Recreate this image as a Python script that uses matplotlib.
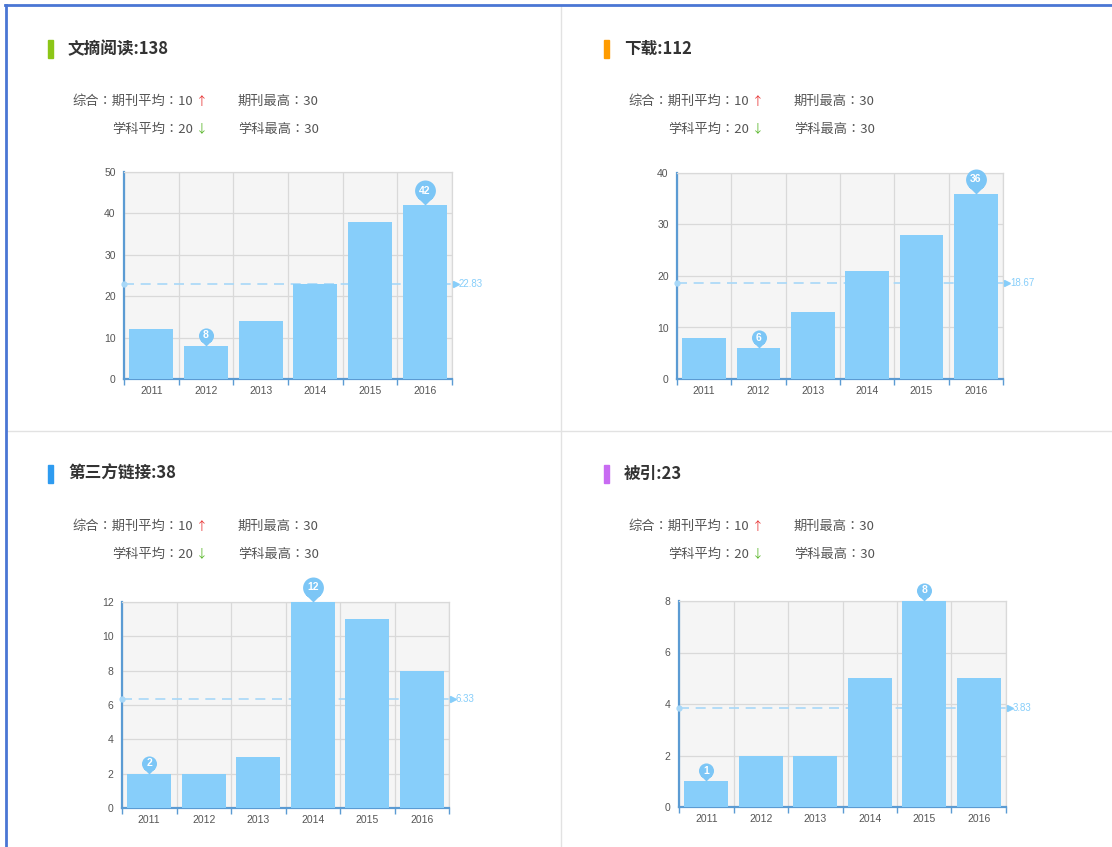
import numpy as np
import matplotlib
matplotlib.use("Agg")
import matplotlib.pyplot as plt
from matplotlib.lines import Line2D
from matplotlib.patches import Rectangle
from matplotlib.path import Path
from matplotlib.transforms import ScaledTranslation

plt.rcParams['font.family'] = ['Noto Sans CJK SC', 'DejaVu Sans']

years = ["2011", "2012", "2013", "2014", "2015", "2016"]

titles = ["文摘阅读:138", "下载:112", "第三方链接:38", "被引:23"]
title_colors = ["#8cc617", "#ff9c00", "#2e9bf0", "#c86bf2"]

reads = [12, 8, 14, 23, 38, 42]
downloads = [8, 6, 13, 21, 28, 36]
links = [2, 2, 3, 12, 11, 8]
citations = [1, 2, 2, 5, 8, 5]
series = [reads, downloads, links, citations]

y_max = [50, 40, 12, 8]
y_step = [10, 10, 2, 2]

journal_avg = 10
journal_max = 30
subject_avg = 20
subject_max = 30

W, H = 1112, 847
fig = plt.figure(figsize=(W / 100, H / 100), dpi=100)
fig.patch.set_facecolor("white")


def fx(x):
    return x / W


def fy(y):
    return 1 - y / H


# panel offsets (pixels) and plot boxes (left, top, right, bottom)
offsets = [(0, 0), (556, 0), (0, 425), (556, 425)]
boxes = [(124, 172, 452, 379), (677, 173, 1003, 379),
         (122, 602, 449, 808), (679, 601, 1006, 807)]

# pin marker: tip at origin, round head above
circ = Path.circle(center=(0, 1.4), radius=1.0)
tri = Path([(0, 0), (0.75, 0.75), (-0.75, 0.75), (0, 0)],
           [Path.MOVETO, Path.LINETO, Path.LINETO, Path.CLOSEPOLY])
pin_path = Path.make_compound_path(circ, tri)

bar_color = "#87cefa"
axis_color = "#5b9bd3"
grid_color = "#d9d9d9"
text_color = "#555555"
stat_font = ['Noto Sans CJK TC', 'DejaVu Sans']
tick_font = 'Liberation Sans'

for i in range(4):
    ox, oy = offsets[i]
    vals = series[i]

    # header
    fig.add_artist(Rectangle((fx(48 + ox), fy(58 + oy)), 5 / W, 18 / H,
                             color=title_colors[i], transform=fig.transFigure))
    fig.text(fx(68 + ox), fy(49 + oy), titles[i], fontsize=12, fontweight="bold",
             color="#333333", va="center", ha="left")

    fig.text(fx(193 + ox), fy(101 + oy), f"综合：期刊平均：{journal_avg}", fontsize=9.5,
             color=text_color, va="center", ha="right", family=stat_font)
    fig.text(fx(196 + ox), fy(101 + oy), "↑", fontsize=8.5, color="#e83a3a",
             va="center", ha="left", family=stat_font)
    fig.text(fx(238 + ox), fy(101 + oy), f"期刊最高：{journal_max}", fontsize=9.5,
             color=text_color, va="center", ha="left", family=stat_font)
    fig.text(fx(193 + ox), fy(129 + oy), f"学科平均：{subject_avg}", fontsize=9.5,
             color=text_color, va="center", ha="right", family=stat_font)
    fig.text(fx(196 + ox), fy(129 + oy), "↓", fontsize=8.5, color="#5cb82e",
             va="center", ha="left", family=stat_font)
    fig.text(fx(238 + ox), fy(129 + oy), f"学科最高：{subject_max}", fontsize=9.5,
             color=text_color, va="center", ha="left", family=stat_font)

    # chart
    l, t, r, b = boxes[i]
    ax = fig.add_axes([fx(l), fy(b), (r - l) / W, (b - t) / H])
    ax.set_facecolor("#f5f5f5")
    x = np.arange(len(years))
    ax.bar(x, vals, width=0.8, color=bar_color, zorder=3)
    ax.set_xlim(-0.5, len(years) - 0.5)
    ax.set_ylim(0, y_max[i])
    ax.set_yticks(np.arange(0, y_max[i] + 0.1, y_step[i]))
    ax.set_xticks(x)
    ax.set_xticklabels(years)
    ax.set_xticks(np.arange(-0.5, len(years)), minor=True)
    ax.tick_params(axis="x", which="major", length=0, pad=5, labelsize=7.5,
                   labelcolor=text_color)
    ax.tick_params(axis="x", which="minor", length=4, color=axis_color, width=1)
    ax.tick_params(axis="y", length=0, pad=6, labelsize=7.5, labelcolor=text_color)
    for lab in ax.get_xticklabels() + ax.get_yticklabels():
        lab.set_family(tick_font)
    ax.grid(True, axis="y", color=grid_color, lw=0.9, zorder=0)
    ax.grid(True, axis="x", which="minor", color=grid_color, lw=0.9, zorder=0)
    for s in ["left", "bottom"]:
        ax.spines[s].set_color(axis_color)
        ax.spines[s].set_linewidth(1.6)
    for s in ["top", "right"]:
        ax.spines[s].set_color(grid_color)
        ax.spines[s].set_linewidth(0.9)
    ax.set_axisbelow(True)

    # average line
    avg = np.mean(vals)
    ax.plot([-0.5, len(years) - 0.5], [avg, avg], ls=(0, (6, 4)), color="#a8d8f8",
            lw=1.2, zorder=2, clip_on=False)
    ax.plot([-0.5], [avg], marker="o", ms=3.5, color="#a8d8f8", zorder=4, clip_on=False)
    ax.plot([len(years) - 0.5], [avg], marker=">", ms=4.5, color="#87cefa",
            clip_on=False, zorder=4,
            transform=ax.transData + ScaledTranslation(4 / 100, 0, fig.dpi_scale_trans))
    ax.annotate(f"{avg:.2f}", xy=(len(years) - 0.5, avg), xytext=(7, 0),
                textcoords="offset pixels", fontsize=7, color="#87cefa",
                va="center", ha="left", annotation_clip=False, family=tick_font)

    # min / max pins
    for idx in [int(np.argmin(vals)), int(np.argmax(vals))]:
        label = str(vals[idx])
        big = len(label) > 1
        ms = 36 if big else 26
        ax.plot([idx], [vals[idx]], marker=pin_path, ms=ms, color="#7cc6f6",
                mec="none", clip_on=False, zorder=5)
        off = ms * 0.5 * 1.4 / 2.4 * 100 / 72
        ax.annotate(label, xy=(idx, vals[idx]), xytext=(0, off),
                    textcoords="offset pixels", fontsize=7.5,
                    color="white", fontweight="bold", ha="center", va="center",
                    annotation_clip=False, zorder=6, family=tick_font)

# dividers and outer border
fig.add_artist(Line2D([fx(561), fx(561)], [0, fy(6)], color="#e2e2e2", lw=1))
fig.add_artist(Line2D([fx(6), 1], [fy(431), fy(431)], color="#e2e2e2", lw=1))
fig.add_artist(Line2D([fx(5), 1], [fy(5.5), fy(5.5)], color="#4a76d4", lw=2))
fig.add_artist(Line2D([fx(5.5), fx(5.5)], [0, fy(5)], color="#4a76d4", lw=2))

fig.savefig("out.png", dpi=100)
